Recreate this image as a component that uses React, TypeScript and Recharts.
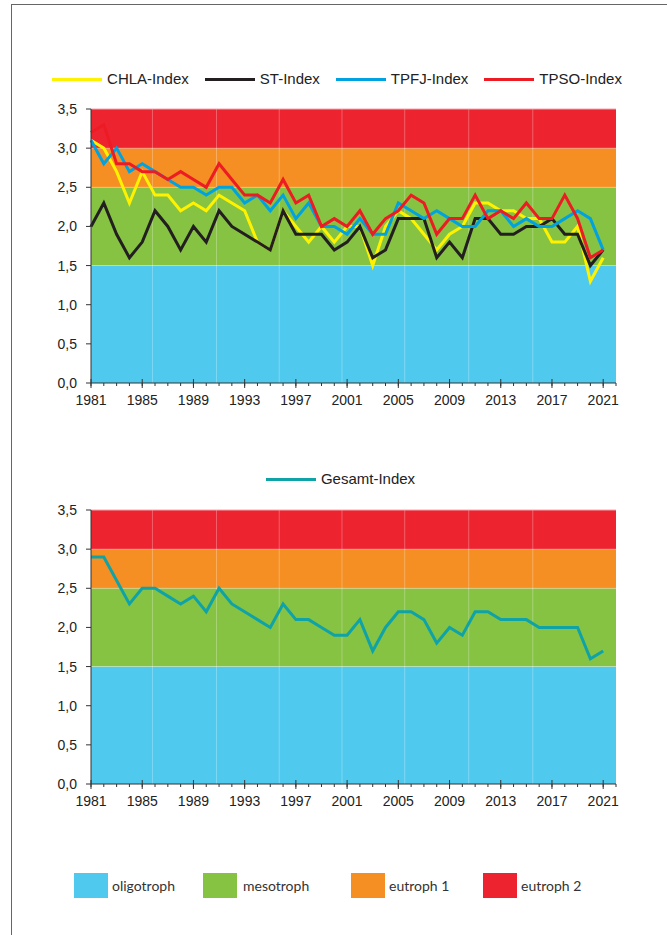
import React from 'react';
import { LineChart, Line, XAxis, YAxis, ReferenceArea, ReferenceLine, Legend } from 'recharts';

// ---------- data ----------
const years = [
  1981, 1982, 1983, 1984, 1985, 1986, 1987, 1988, 1989, 1990,
  1991, 1992, 1993, 1994, 1995, 1996, 1997, 1998, 1999, 2000,
  2001, 2002, 2003, 2004, 2005, 2006, 2007, 2008, 2009, 2010,
  2011, 2012, 2013, 2014, 2015, 2016, 2017, 2018, 2019, 2020, 2021,
];

const chlaIndex = [
  3.1, 3.0, 2.7, 2.3, 2.7, 2.4, 2.4, 2.2, 2.3, 2.2,
  2.4, 2.3, 2.2, 1.8, 1.7, 2.2, 2.0, 1.8, 2.0, 1.8,
  2.0, 2.0, 1.5, 2.0, 2.2, 2.1, 1.9, 1.7, 1.9, 2.0,
  2.3, 2.3, 2.2, 2.2, 2.1, 2.1, 1.8, 1.8, 2.0, 1.3, 1.6,
];
const stIndex = [
  2.0, 2.3, 1.9, 1.6, 1.8, 2.2, 2.0, 1.7, 2.0, 1.8,
  2.2, 2.0, 1.9, 1.8, 1.7, 2.2, 1.9, 1.9, 1.9, 1.7,
  1.8, 2.0, 1.6, 1.7, 2.1, 2.1, 2.1, 1.6, 1.8, 1.6,
  2.1, 2.1, 1.9, 1.9, 2.0, 2.0, 2.1, 1.9, 1.9, 1.5, 1.7,
];
const tpfjIndex = [
  3.1, 2.8, 3.0, 2.7, 2.8, 2.7, 2.6, 2.5, 2.5, 2.4,
  2.5, 2.5, 2.3, 2.4, 2.2, 2.4, 2.1, 2.3, 2.0, 2.0,
  1.9, 2.1, 1.9, 1.9, 2.3, 2.2, 2.1, 2.2, 2.1, 2.0,
  2.0, 2.2, 2.2, 2.0, 2.1, 2.0, 2.0, 2.1, 2.2, 2.1, 1.7,
];
const tpsoIndex = [
  3.2, 3.3, 2.8, 2.8, 2.7, 2.7, 2.6, 2.7, 2.6, 2.5,
  2.8, 2.6, 2.4, 2.4, 2.3, 2.6, 2.3, 2.4, 2.0, 2.1,
  2.0, 2.2, 1.9, 2.1, 2.2, 2.4, 2.3, 1.9, 2.1, 2.1,
  2.4, 2.1, 2.2, 2.1, 2.3, 2.1, 2.1, 2.4, 2.1, 1.6, 1.7,
];
const gesamtIndex = [
  2.9, 2.9, 2.6, 2.3, 2.5, 2.5, 2.4, 2.3, 2.4, 2.2,
  2.5, 2.3, 2.2, 2.1, 2.0, 2.3, 2.1, 2.1, 2.0, 1.9,
  1.9, 2.1, 1.7, 2.0, 2.2, 2.2, 2.1, 1.8, 2.0, 1.9,
  2.2, 2.2, 2.1, 2.1, 2.1, 2.0, 2.0, 2.0, 2.0, 1.6, 1.7,
];

// axis ticks
const tickYears = [
  1981, 1982, 1983, 1984, 1985, 1986, 1987, 1988, 1989, 1990,
  1991, 1992, 1993, 1994, 1995, 1996, 1997, 1998, 1999, 2000,
  2001, 2002, 2003, 2004, 2005, 2006, 2007, 2008, 2009, 2010,
  2011, 2012, 2013, 2014, 2015, 2016, 2017, 2018, 2019, 2020,
  2021, 2022,
];
const labelYears = [1981, 1985, 1989, 1993, 1997, 2001, 2005, 2009, 2013, 2017, 2021];
const yTicks = [0, 0.5, 1.0, 1.5, 2.0, 2.5, 3.0, 3.5];

// trophic classes (background bands)
const bandNames = ['oligotroph', 'mesotroph', 'eutroph 1', 'eutroph 2'];
const bandFrom = [0, 1.5, 2.5, 3.0];
const bandTo = [1.5, 2.5, 3.0, 3.5];
const bandColors = ['#4FC9EE', '#86C342', '#F58F23', '#EE2330'];

// faint vertical seams visible in the background
const seamYears = [1985.8, 1990.8, 1995.7, 2000.6, 2005.5, 2010.5, 2015.5];

const topNames = ['CHLA-Index', 'ST-Index', 'TPFJ-Index', 'TPSO-Index'];
const topKeys = ['chla', 'st', 'tpfj', 'tpso'];
const topColors = ['#FFF200', '#231F20', '#00A3E0', '#ED1C24'];

const topData = years.map((y, i) => ({
  year: y,
  chla: chlaIndex[i],
  st: stIndex[i],
  tpfj: tpfjIndex[i],
  tpso: tpsoIndex[i],
}));
const bottomData = years.map((y, i) => ({ year: y, gesamt: gesamtIndex[i] }));

// ---------- styling ----------
const AXIS = '#333333';
const TEXT = '#222222';
const FONT = '"Liberation Sans", Arial, sans-serif';
const X_TICK_SIZE = 3;
const X_TICK_MARGIN = 9;

const XTick = (props: any) => {
  const { x, y, payload } = props;
  const v = payload.value;
  const major = labelYears.includes(v);
  const axisY = y - X_TICK_SIZE - X_TICK_MARGIN;
  if (!major) return <g />;
  return (
    <g>
      <line x1={x} x2={x} y1={axisY - 4} y2={axisY + 5} stroke={AXIS} strokeWidth={1} />
      <text x={x} y={y} dy="0.71em" textAnchor="middle" fill={TEXT} fontSize={14} fontFamily={FONT}>
        {v}
      </text>
    </g>
  );
};

const fmt = (v: number) => v.toFixed(1).replace('.', ',');

const LineLegend = ({ names, colors, padLeft }: { names: string[]; colors: string[]; padLeft: number }) => (
  <div
    style={{
      display: 'flex',
      justifyContent: 'center',
      alignItems: 'center',
      gap: 16,
      paddingLeft: padLeft,
      fontFamily: FONT,
      fontSize: 15,
      color: TEXT,
      lineHeight: '18px',
    }}
  >
    {names.map((n, i) => (
      <div key={n} style={{ display: 'flex', alignItems: 'center' }}>
        <span style={{ display: 'inline-block', width: 50, height: 3, background: colors[i], marginRight: 5 }} />
        <span>{n}</span>
      </div>
    ))}
  </div>
);

const Background = () => null;

function bands() {
  const out: any[] = [];
  bandNames.forEach((n, i) => {
    out.push(
      <ReferenceArea
        key={'band' + n}
        y1={bandFrom[i]}
        y2={bandTo[i]}
        fill={bandColors[i]}
        fillOpacity={1}
        stroke="none"
        ifOverflow="visible"
      />
    );
  });
  seamYears.forEach((s) => {
    out.push(<ReferenceLine key={'seam' + s} x={s} stroke="rgba(255,255,255,0.28)" strokeWidth={1} />);
  });
  [1.5, 2.5, 3.0].forEach((b) => {
    out.push(<ReferenceLine key={'bound' + b} y={b} stroke="rgba(255,255,255,0.3)" strokeWidth={1} />);
  });
  out.push(<ReferenceLine key="top" y={3.5} stroke="#F4A6AC" strokeWidth={1} />);
  return out;
}

function axes() {
  return [
    <XAxis
      key="x"
      dataKey="year"
      type="number"
      domain={[1981, 2022]}
      ticks={tickYears}
      interval={0}
      tickSize={X_TICK_SIZE}
      tickMargin={X_TICK_MARGIN}
      tick={<XTick />}
      axisLine={{ stroke: AXIS, strokeWidth: 1 }}
      tickLine={{ stroke: AXIS, strokeWidth: 1 }}
      height={30}
      allowDecimals={false}
    />,
    <YAxis
      key="y"
      type="number"
      domain={[0, 3.5]}
      ticks={yTicks}
      interval={0}
      tickFormatter={fmt}
      tickSize={5}
      tickMargin={9}
      width={60}
      axisLine={{ stroke: AXIS, strokeWidth: 1 }}
      tickLine={{ stroke: AXIS, strokeWidth: 1 }}
      tick={{ fill: TEXT, fontSize: 14, fontFamily: FONT }}
    />,
  ];
}

export default function App() {
  return (
    <div
      style={{
        position: 'absolute',
        left: 0,
        top: 0,
        width: 667,
        height: 935,
        background: '#fff',
        overflow: 'hidden',
      }}
    >
      <div
        style={{
          position: 'absolute',
          left: 11,
          top: 4,
          width: 670,
          height: 940,
          borderLeft: '1px solid #666',
          borderTop: '1px solid #666',
        }}
      />

      <div style={{ position: 'absolute', left: 0, top: 0 }}>
        <LineChart width={667} height={420} data={topData} margin={{ top: 109, right: 51, bottom: 7, left: 31 }}>
          {bands()}
          {axes()}
          <Legend
            layout="horizontal"
            verticalAlign="middle"
            align="center"
            wrapperStyle={{ top: 70, left: 0, width: 667 }}
            content={() => <LineLegend names={topNames} colors={topColors} padLeft={7} />}
          />
          {topKeys.map((k, i) => (
            <Line
              key={k}
              dataKey={k}
              name={topNames[i]}
              type="linear"
              stroke={topColors[i]}
              strokeWidth={3}
              dot={false}
              activeDot={false}
              isAnimationActive={false}
            />
          ))}
        </LineChart>
      </div>

      <div style={{ position: 'absolute', left: 0, top: 430 }}>
        <LineChart width={667} height={420} data={bottomData} margin={{ top: 80, right: 51, bottom: 36, left: 31 }}>
          {bands()}
          {axes()}
          <Legend
            layout="horizontal"
            verticalAlign="middle"
            align="center"
            wrapperStyle={{ top: 40, left: 0, width: 667 }}
            content={() => <LineLegend names={['Gesamt-Index']} colors={['#0FA3A8']} padLeft={14} />}
          />
          <Line
            dataKey="gesamt"
            name="Gesamt-Index"
            type="linear"
            stroke="#0FA3A8"
            strokeWidth={3}
            dot={false}
            activeDot={false}
            isAnimationActive={false}
          />
        </LineChart>
      </div>

      {bandNames.map((n, i) => (
        <div
          key={n}
          style={{
            position: 'absolute',
            left: [74, 203, 351, 483][i],
            top: 873,
            display: 'flex',
            alignItems: 'center',
            fontFamily: 'Lato, "Open Sans", sans-serif',
            fontSize: 14,
            color: '#333',
          }}
        >
          <span style={{ display: 'inline-block', width: 34, height: 25, background: bandColors[i], marginRight: i === 1 ? 6 : 4 }} />
          <span>{n}</span>
        </div>
      ))}
    </div>
  );
}
